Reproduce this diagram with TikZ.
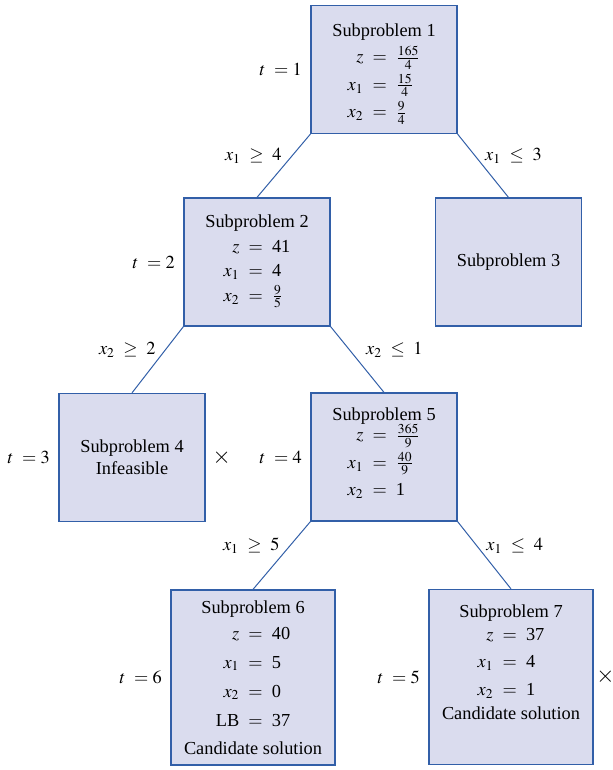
\documentclass[tikz,border=0pt]{standalone}
\usepackage{mathptmx}
\usepackage[no-math]{fontspec}
\setmainfont{Liberation Serif}
\usetikzlibrary{positioning}
\definecolor{lilac}{RGB}{218,220,238}
\definecolor{navy}{RGB}{50,95,168}
\tikzset{
  sub/.style={draw=navy,fill=lilac,line width=0.75pt,minimum width=87.6pt,
    minimum height=76.8pt,align=center,inner sep=0pt,font=\fontsize{11}{15}\selectfont},
  subbig/.style={sub,minimum width=98.4pt,minimum height=105pt},
  branch/.style={draw=navy,line width=0.6pt},
  tag/.style={font=\fontsize{11}{13}\selectfont,inner sep=1pt},
  cross/.style={font=\fontsize{14}{14}\selectfont,inner sep=0pt},
}
% rows of values, aligned on the equals sign
\newcommand{\vals}[2][1.1]{{\renewcommand{\arraystretch}{#1}%
  \begin{tabular}{@{}r@{\enskip$=$\enskip}l@{}}#2\end{tabular}}}

\begin{document}
\begin{tikzpicture}[x=0.6pt,y=-0.6pt]
  \useasboundingbox (0,0) rectangle (613,770);
  % subproblems
  \node[sub] (b1) at (384,69.5) {\rule{0pt}{14pt}Subproblem 1\\[1pt]
    \vals{$z$ & $\frac{165}{4}$\\ $x_1$ & $\frac{15}{4}$\\ $x_2$ & $\frac{9}{4}$}};
  \node[sub] (b2) at (257,262) {Subproblem 2\\[1pt]
    \vals[0.98]{$z$ & 41\\ $x_1$ & 4\\ $x_2$ & $\frac{9}{5}$}};
  \node[sub] (b3) at (508.5,262) {Subproblem 3};
  \node[sub] (b4) at (132,457.5) {Subproblem 4\\[-2pt] Infeasible};
  \node[sub] (b5) at (384,457) {Subproblem 5\\[-3pt]
    \vals{$z$ & $\frac{365}{9}$\\ $x_1$ & $\frac{40}{9}$\\ $x_2$ & 1\rule[-6pt]{0pt}{6pt}}};
  \node[subbig] (b6) at (253,677.5) {Subproblem 6\\[0pt]
    \vals[1.16]{$z$ & 40\\ $x_1$ & 5\\ $x_2$ & 0\\ LB & 37}\\[3pt] Candidate solution};
  \node[subbig] (b7) at (511,677) {Subproblem 7\\[-1pt]
    \vals[1.1]{$z$ & 37\\ $x_1$ & 4\\ $x_2$ & 1}\\[1pt]
    Candidate solution\rule[-18pt]{0pt}{18pt}};
  % iteration counters
  \foreach \b/\t in {b1/1,b2/2,b4/3,b5/4,b6/6,b7/5}
    \node[tag,left=4pt of \b] (t\b) {$t\ = \t$};
  % pruned
  \node[cross,right=4pt of b4] (x4) {$\times$};
  \node[cross,right=1.5pt of b7] (x7) {$\times$};
  % branches
  \draw[branch] (b1.south west) -- node[tag,above left] {$x_1\ \geq\ 4$} (b2.north);
  \draw[branch] (b1.south east) -- node[tag,above right] {$x_1\ \leq\ 3$} (b3.north);
  \draw[branch] (b2.south west) -- node[tag,above left] {$x_2\ \geq\ 2$} (b4.north);
  \draw[branch] (b2.south east) -- node[tag,above right,xshift=4pt] {$x_2\ \leq\ 1$} (b5.north);
  \draw[branch] (b5.south west) -- node[tag,above left] {$x_1\ \geq\ 5$} (b6.north);
  \draw[branch] (b5.south east) -- node[tag,above right] {$x_1\ \leq\ 4$} (b7.north);
\end{tikzpicture}
\end{document}
